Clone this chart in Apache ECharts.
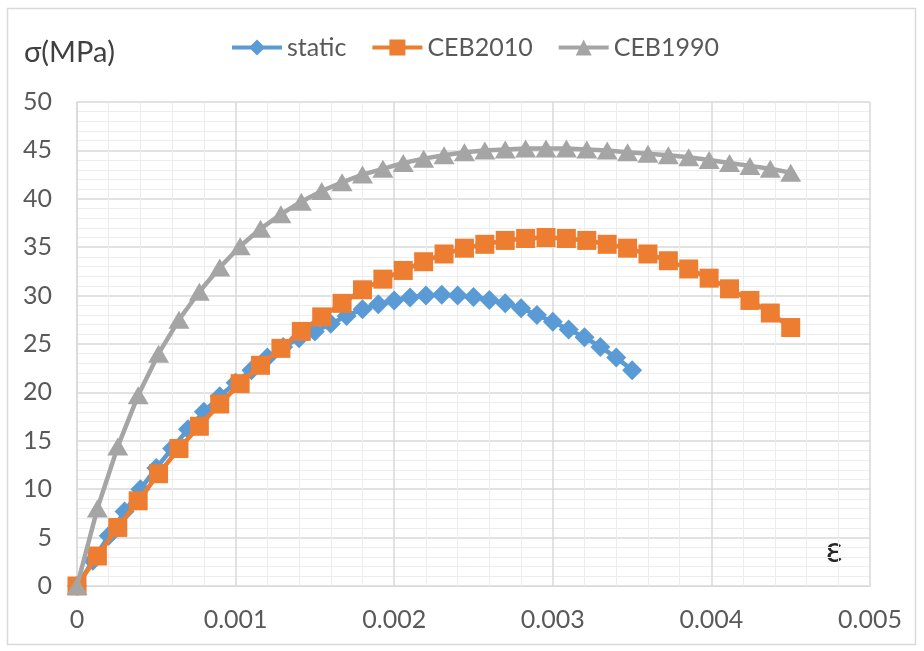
<!DOCTYPE html>
<html>
<head>
<meta charset="utf-8">
<title>Stress-strain curves</title>
<script src="https://cdn.jsdelivr.net/npm/echarts@6/dist/echarts.min.js"></script>
<style>
  html, body { margin: 0; padding: 0; background: #ffffff; }
  #chart { width: 924px; height: 651px; }
</style>
</head>
<body>
<div id="chart"></div>
<script>
// Strain steps (ε) for each curve
var staticStep = 0.0001;          // static curve: 0 .. 0.0035
var cebStep = 0.0045 / 35;        // CEB curves: 0 .. 0.0045

// Stress values σ (MPa)
var staticStress = [0, 2.6, 5.2, 7.7, 10.0, 12.2, 14.2, 16.2, 18.0, 19.6,
  21.0, 22.3, 23.6, 24.7, 25.6, 26.3, 27.1, 27.9, 28.6, 29.1,
  29.5, 29.8, 30.0, 30.1, 30.0, 29.85, 29.55, 29.2, 28.7, 28.0,
  27.3, 26.5, 25.7, 24.7, 23.6, 22.3];

var ceb2010Stress = [0, 3.1, 6.05, 8.8, 11.6, 14.2, 16.5, 18.8, 20.9, 22.8,
  24.55, 26.3, 27.8, 29.2, 30.6, 31.7, 32.6, 33.5, 34.3, 34.9,
  35.3, 35.7, 35.9, 36.0, 35.9, 35.7, 35.3, 34.9, 34.3, 33.6,
  32.75, 31.8, 30.7, 29.5, 28.2, 26.7];

var ceb1990Stress = [0, 8.0, 14.4, 19.7, 24.0, 27.5, 30.4, 32.9, 35.1, 36.9,
  38.4, 39.7, 40.8, 41.7, 42.5, 43.1, 43.7, 44.15, 44.5, 44.8,
  45.0, 45.1, 45.2, 45.2, 45.2, 45.1, 45.0, 44.8, 44.65, 44.5,
  44.3, 44.0, 43.7, 43.4, 43.1, 42.7];

var seriesNames = ['static', 'CEB2010', 'CEB1990'];
var seriesColors = ['#5B9BD5', '#ED7D31', '#A5A5A5'];

function pairs(step, values) {
  return values.map(function (v, i) { return [+(i * step).toFixed(7), v]; });
}

var FONT = 'Lato';
var TEXT = '#595959';

var chart = echarts.init(document.getElementById('chart'), null, { renderer: 'canvas' });

chart.setOption({
  animation: false,
  backgroundColor: '#ffffff',
  textStyle: { fontFamily: FONT },
  grid: { left: 77, right: 54, top: 102, bottom: 65, containLabel: false },
  legend: {
    top: 30,
    left: 225,
    itemWidth: 50,
    itemHeight: 20,
    itemGap: 24,
    lineStyle: { width: 4 },
    textStyle: { fontFamily: FONT, fontSize: 25, color: TEXT, padding: [0, 0, 0, 0] },
    data: seriesNames
  },
  xAxis: {
    type: 'value',
    min: 0,
    max: 0.005,
    interval: 0.001,
    axisLine: { show: true, lineStyle: { color: '#d9d9d9', width: 1 } },
    axisTick: { show: false },
    axisLabel: {
      margin: 21,
      fontFamily: FONT,
      fontSize: 25,
      color: TEXT,
      formatter: function (v) { return v === 0 ? '0' : v.toFixed(3); }
    },
    splitLine: { show: true, lineStyle: { color: '#d9d9d9', width: 1.5 } },
    minorTick: { show: false, splitNumber: 5 },
    minorSplitLine: { show: true, lineStyle: { color: '#ededed', width: 1 } }
  },
  yAxis: {
    type: 'value',
    min: 0,
    max: 50,
    interval: 5,
    axisLine: { show: true, lineStyle: { color: '#d9d9d9', width: 1.5 } },
    axisTick: { show: false },
    axisLabel: { margin: 25, fontFamily: FONT, fontSize: 25, color: TEXT },
    splitLine: { show: true, lineStyle: { color: '#d9d9d9', width: 1.5 } },
    minorTick: { show: false, splitNumber: 5 },
    minorSplitLine: { show: true, lineStyle: { color: '#ededed', width: 1 } }
  },
  series: [
    {
      name: seriesNames[0],
      type: 'line',
      data: pairs(staticStep, staticStress),
      symbol: 'diamond',
      symbolSize: [20, 20],
      showAllSymbol: true,
      lineStyle: { color: seriesColors[0], width: 4.5 },
      itemStyle: { color: seriesColors[0] },
      z: 2
    },
    {
      name: seriesNames[1],
      type: 'line',
      data: pairs(cebStep, ceb2010Stress),
      symbol: 'rect',
      symbolSize: [19, 19],
      showAllSymbol: true,
      lineStyle: { color: seriesColors[1], width: 4.5 },
      itemStyle: { color: seriesColors[1] },
      z: 3
    },
    {
      name: seriesNames[2],
      type: 'line',
      data: pairs(cebStep, ceb1990Stress),
      symbol: 'triangle',
      symbolSize: [21, 18],
      showAllSymbol: true,
      lineStyle: { color: seriesColors[2], width: 4.5 },
      itemStyle: { color: seriesColors[2] },
      z: 4
    }
  ],
  graphic: [
    {
      type: 'rect',
      silent: true,
      shape: { x: 7.5, y: 8.5, width: 908, height: 636 },
      style: { fill: null, stroke: '#d9d9d9', lineWidth: 1.5 }
    },
    {
      type: 'text',
      left: 24,
      top: 38,
      style: { text: 'σ(MPa)', fontFamily: FONT, fontSize: 29, fill: '#404040' }
    },
    {
      type: 'text',
      left: 826,
      top: 532,
      style: { text: 'ε', fontFamily: FONT, fontSize: 36, fill: '#262626' }
    }
  ]
});
</script>
</body>
</html>
